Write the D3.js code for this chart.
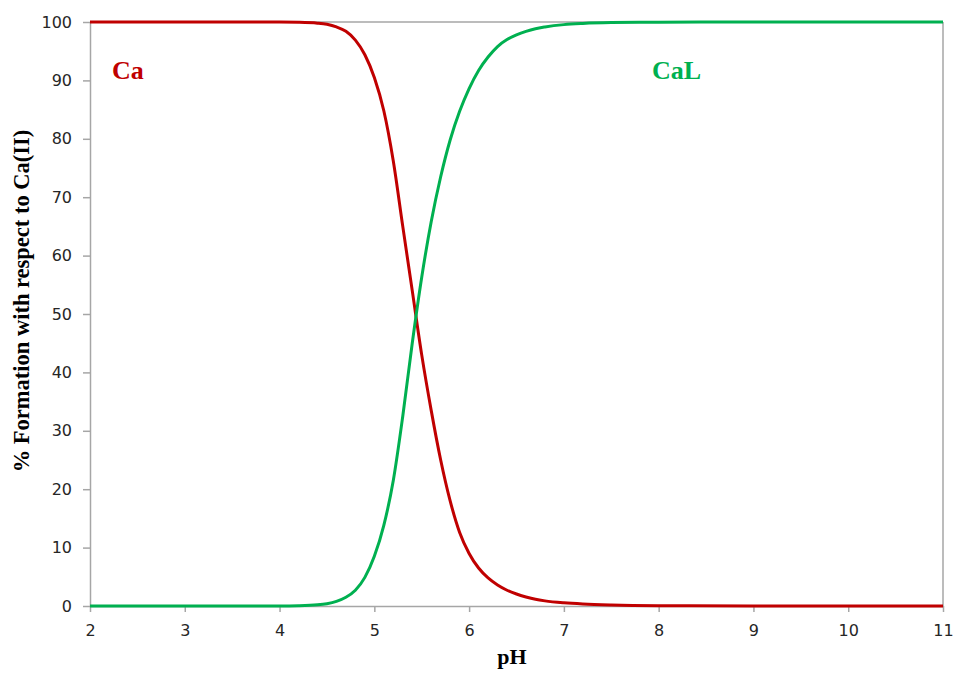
<!DOCTYPE html>
<html>
<head>
<meta charset="utf-8">
<script src="https://cdn.jsdelivr.net/npm/d3@7"></script>
<style>
  html, body { margin: 0; padding: 0; background: #fff; }
  svg { display: block; }
</style>
</head>
<body>
<svg id="chart" width="957" height="673"></svg>
<script>
// ---- data ----
const pH = [2, 3, 4, 4.2, 4.4, 4.5, 4.6, 4.7, 4.8, 4.9, 5.0, 5.1, 5.2, 5.3, 5.4, 5.5, 5.6, 5.7, 5.8, 5.9,
            6.0, 6.1, 6.2, 6.3, 6.4, 6.5, 6.6, 6.7, 6.8, 7.0, 7.2, 7.5, 8, 9, 10, 11];
const caValues = [100, 100, 99.99, 99.95, 99.8, 99.6, 99.15, 98.4, 96.9, 94.4, 90.5, 84.8, 76.2, 65.0, 54.0, 43.0, 33.5, 25.0, 18.0, 12.6,
                  9.0, 6.5, 4.8, 3.6, 2.7, 2.05, 1.55, 1.15, 0.88, 0.55, 0.35, 0.18, 0.06, 0.01, 0, 0];
const calValues = [0, 0, 0.01, 0.05, 0.2, 0.4, 0.8, 1.5, 2.7, 4.9, 8.5, 13.8, 21.5, 32.5, 45.0, 56.3, 65.8, 73.5, 79.8, 84.7,
                   88.6, 91.7, 94.0, 95.8, 97.0, 97.8, 98.4, 98.85, 99.15, 99.55, 99.75, 99.9, 99.97, 100, 100, 100];
const xTicks = [2, 3, 4, 5, 6, 7, 8, 9, 10, 11];
const yTicks = [0, 10, 20, 30, 40, 50, 60, 70, 80, 90, 100];
const seriesNames = ["Ca", "CaL"];
const seriesColors = ["#c00000", "#00b050"];
const xTitle = "pH";
const yTitle = "% Formation with respect to Ca(II)";

// ---- layout ----
const svg = d3.select("#chart");
const L = 90, R = 943, T = 22, B = 606;
const x = d3.scaleLinear().domain([2, 11]).range([L, R]);
const y = d3.scaleLinear().domain([0, 100]).range([B, T]);
const axisColor = "#a6a6a6";
const tickFont = "'DejaVu Sans', Verdana, sans-serif";
const serif = "'Liberation Serif', 'Times New Roman', serif";

// plot border (top & right)
svg.append("line").attr("x1", L).attr("x2", R).attr("y1", T).attr("y2", T)
  .attr("stroke", axisColor).attr("stroke-width", 1.5);
svg.append("line").attr("x1", R).attr("x2", R).attr("y1", T).attr("y2", B)
  .attr("stroke", axisColor).attr("stroke-width", 1.5);

// axes
const xAxis = svg.append("g").attr("transform", `translate(0,${B})`)
  .call(d3.axisBottom(x).tickValues(xTicks).tickSize(6).tickPadding(13).tickSizeOuter(0).tickFormat(d3.format("d")));
const yAxis = svg.append("g").attr("transform", `translate(${L},0)`)
  .call(d3.axisLeft(y).tickValues(yTicks).tickSize(7).tickPadding(11).tickSizeOuter(0).tickFormat(d3.format("d")));
[xAxis, yAxis].forEach(g => {
  g.select(".domain").attr("stroke", axisColor).attr("stroke-width", 1.5);
  g.selectAll(".tick line").attr("stroke", axisColor).attr("stroke-width", 1.5);
  g.selectAll(".tick text").attr("fill", "#262626").style("font-family", tickFont).style("font-size", "16px");
});

// lines
const line = d3.line().x(d => x(d[0])).y(d => y(d[1])).curve(d3.curveMonotoneX);
[caValues, calValues].forEach((vals, i) => {
  svg.append("path")
    .datum(pH.map((p, j) => [p, vals[j]]))
    .attr("fill", "none")
    .attr("stroke", seriesColors[i])
    .attr("stroke-width", 3)
    .attr("stroke-linejoin", "round")
    .attr("d", line);
});

// series labels
svg.append("text").attr("x", 112).attr("y", 79).text(seriesNames[0])
  .attr("fill", seriesColors[0]).style("font-family", serif).style("font-weight", "bold").style("font-size", "26px");
svg.append("text").attr("x", 652).attr("y", 79).text(seriesNames[1])
  .attr("fill", seriesColors[1]).style("font-family", serif).style("font-weight", "bold").style("font-size", "26px");

// axis titles
svg.append("text").attr("x", 512).attr("y", 664).attr("text-anchor", "middle").text(xTitle)
  .attr("fill", "#000").style("font-family", serif).style("font-weight", "bold").style("font-size", "22px");
svg.append("text").attr("transform", "translate(29,301) rotate(-90)").attr("text-anchor", "middle").text(yTitle)
  .attr("fill", "#000").style("font-family", serif).style("font-weight", "bold").style("font-size", "22.5px");
</script>
</body>
</html>
